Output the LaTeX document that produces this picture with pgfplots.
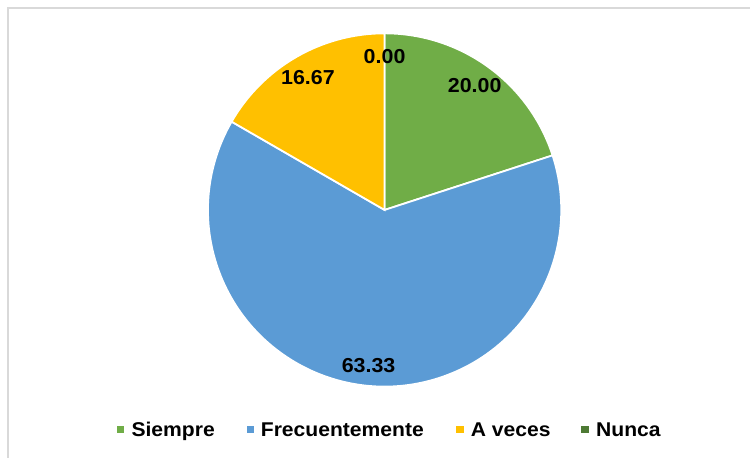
\documentclass[border=0pt]{standalone}
\usepackage{graphicx}
\usepackage{pgfplots}
\pgfplotsset{compat=1.18}
\usepackage{pgfplotstable}
\usetikzlibrary{calc}
\usepackage{fontspec}
\setmainfont{Liberation Sans}

\definecolor{cSiempre}{HTML}{70AD47}
\definecolor{cFrec}{HTML}{5B9BD5}
\definecolor{cAveces}{HTML}{FFC000}
\definecolor{cNunca}{HTML}{4E7A34}
\definecolor{frame}{HTML}{D9D9D9}

% pie shares (percent), clockwise from 12 o'clock
\pgfplotstableread{
value
20.00
63.33
16.67
0.00
}\piedata

\pgfkeys{/pgf/number format/.cd, fixed, zerofill, precision=2, assume math mode=true}
\newcommand\wide[1]{\scalebox{1.06}[1]{#1}}

\begin{document}
\begin{tikzpicture}
\pgfplotstablegetelem{0}{value}\of\piedata \let\vA\pgfplotsretval
\pgfplotstablegetelem{1}{value}\of\piedata \let\vB\pgfplotsretval
\pgfplotstablegetelem{2}{value}\of\piedata \let\vC\pgfplotsretval
\pgfplotstablegetelem{3}{value}\of\piedata \let\vD\pgfplotsretval
\pgfmathsetmacro\aA{90-3.6*\vA}
\pgfmathsetmacro\aB{\aA-3.6*\vB}
\pgfmathsetmacro\aC{\aB-3.6*\vC}
\pgfmathsetmacro\aD{\aC-3.6*\vD}
\pgfmathsetmacro\mA{(90+\aA)/2}
\pgfmathsetmacro\mB{(\aA+\aB)/2}
\pgfmathsetmacro\mC{(\aB+\aC)/2}
\pgfmathsetmacro\mD{(\aC+\aD)/2}
\def\R{177.5pt}
\def\L{154pt}
\begin{axis}[
  width=751pt, height=457pt, scale only axis,
  xmin=0, xmax=751, ymin=0, ymax=457, y dir=reverse,
  axis lines=none, ticks=none, clip=false,
]
\path (axis cs:0,0) rectangle (axis cs:751,457);
\draw[frame, line width=1.5pt] (axis cs:8,460) -- (axis cs:8,8) -- (axis cs:754,8);

\filldraw[cSiempre, draw=white, line width=1.8pt] (axis cs:386.5,211) -- ++(90:\R)
  arc[start angle=90, end angle=\aA, radius=\R] -- cycle;
\filldraw[cFrec, draw=white, line width=1.8pt] (axis cs:386.5,211) -- ++(\aA:\R)
  arc[start angle=\aA, end angle=\aB, radius=\R] -- cycle;
\filldraw[cAveces, draw=white, line width=1.8pt] (axis cs:386.5,211) -- ++(\aB:\R)
  arc[start angle=\aB, end angle=\aC, radius=\R] -- cycle;
\draw[white, line width=1.8pt] (axis cs:386.5,211) -- ++(\aC:\R);

\begin{scope}[font=\fontsize{20.3}{24}\selectfont\bfseries]
\node at ($(axis cs:386.5,211)+(\mA:\L)$) {\wide{\pgfmathprintnumber{\vA}}};
\node at ($(axis cs:386.5,214)+(\mB:\L)$) {\wide{\pgfmathprintnumber{\vB}}};
\node at ($(axis cs:386.5,211)+(\mC:\L)$) {\wide{\pgfmathprintnumber{\vC}}};
\node at ($(axis cs:386.5,211)+(\mD:\L)$) {\wide{\pgfmathprintnumber{\vD}}};
\end{scope}

\begin{scope}[font=\fontsize{20}{24}\selectfont\bfseries]
\fill[cSiempre] (axis cs:118,428) rectangle (axis cs:125,435);
\node[anchor=base west, inner sep=0] at (axis cs:132,439) {\wide{Siempre}};
\fill[cFrec] (axis cs:248,428) rectangle (axis cs:255,435);
\node[anchor=base west, inner sep=0] at (axis cs:262,439) {\wide{Frecuentemente}};
\fill[cAveces] (axis cs:458,428) rectangle (axis cs:466,435);
\node[anchor=base west, inner sep=0] at (axis cs:473,439) {\wide{A veces}};
\fill[cNunca] (axis cs:584,428) rectangle (axis cs:592,435);
\node[anchor=base west, inner sep=0] at (axis cs:599,439) {\wide{Nunca}};
\end{scope}
\end{axis}
\end{tikzpicture}
\end{document}
